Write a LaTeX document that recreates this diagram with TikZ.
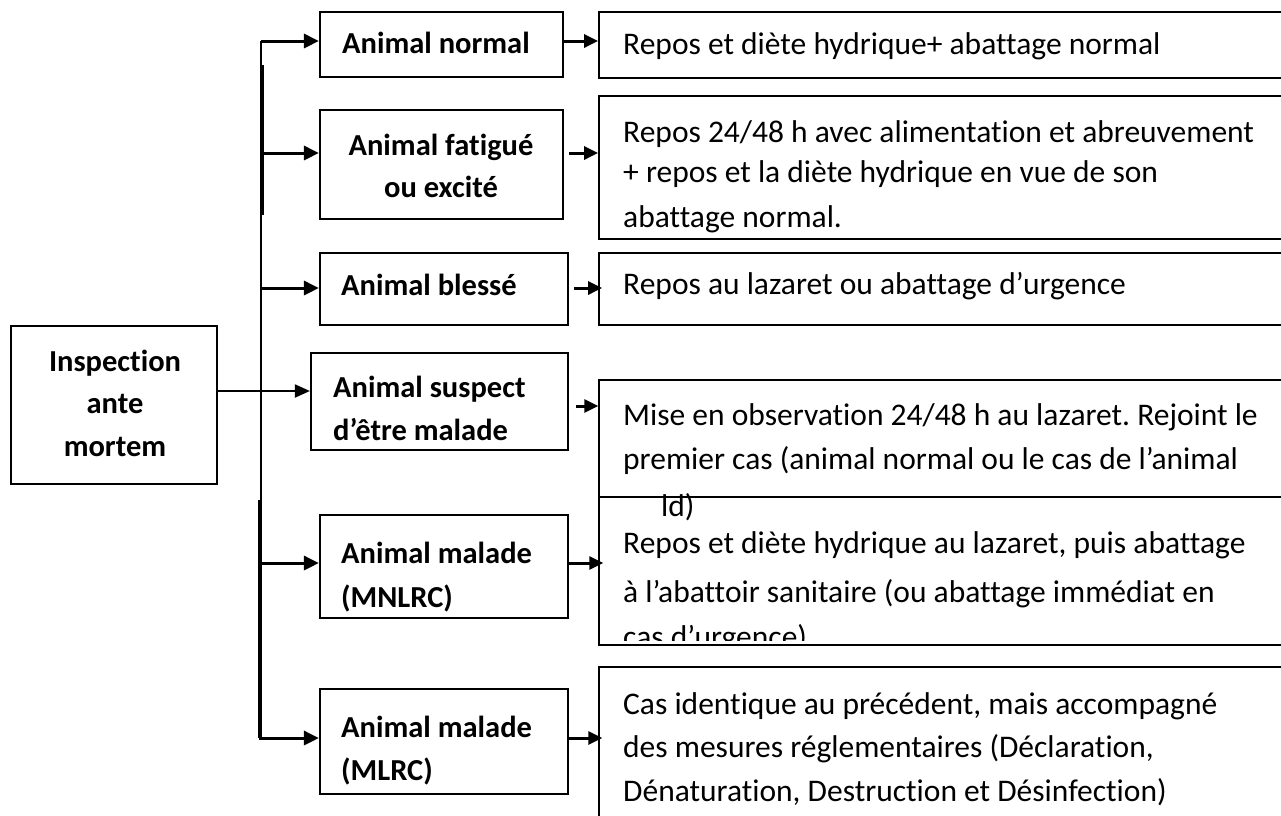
\documentclass[tikz,border=0pt]{standalone}
\usepackage{fontspec}
\setmainfont{Carlito}[Ligatures={TeX,NoCommon}]
\usetikzlibrary{arrows.meta}
\frenchspacing
\tikzset{
  lbox/.style={draw, line width=2.2pt, inner sep=0pt},
  rbox/.style={draw, line width=1.8pt, inner sep=0pt},
  trunkline/.style={line width=1.8pt},
  larr/.style={line width=3pt, -{Triangle[length=15pt,width=14pt]}},
  iarr/.style={line width=2pt, -{Triangle[length=15pt,width=13pt]}},
  rarr/.style={line width=3pt, -{Triangle[length=14pt,width=13pt]}},
  lt/.style={font=\fontsize{30.5}{36}\selectfont\bfseries, inner sep=0pt, anchor=base west},
  lc/.style={lt, anchor=base},
  rt/.style={font=\fontsize{31.5}{36}\selectfont, inner sep=0pt, anchor=base west}
}
\begin{document}
\begin{tikzpicture}[x=1pt,y=-1pt]
\clip (0,0) rectangle (1281,815);
\fill[white] (0,0) rectangle (1281,815);
% left boxes
\node[lbox, minimum width=206pt, minimum height=158pt] (insp) at (114,405) {};
\node[lbox, minimum width=243pt, minimum height=65pt] (n1) at (441.5,44.5) {};
\node[lbox, minimum width=243pt, minimum height=109pt] (n2) at (441.5,164.5) {};
\node[lbox, minimum width=248pt, minimum height=72pt] (n3) at (444,289) {};
\node[lbox, minimum width=257pt, minimum height=97pt] (n4) at (439.5,401.5) {};
\node[lbox, minimum width=248pt, minimum height=103pt] (n5) at (444,566.5) {};
\node[lbox, minimum width=248pt, minimum height=105pt] (n6) at (444,741.5) {};
% right boxes
\node[rbox, minimum width=701pt, minimum height=66pt] (r1) at (949.5,45) {};
\node[rbox, minimum width=701pt, minimum height=143pt] (r2) at (949.5,167.5) {};
\node[rbox, minimum width=701pt, minimum height=72pt] (r3) at (949.5,289) {};
\node[rbox, line width=1.4pt, minimum width=701pt, minimum height=117pt] (r4) at (949.5,438.5) {};
\node[rbox, line width=1.4pt, minimum width=701pt, minimum height=148pt] (r5) at (949.5,571) {};
\node[rbox, line width=1.4pt, minimum width=701pt, minimum height=163pt] (r6) at (949.5,748.5) {};
% trunk and branches
\coordinate (b1) at (261,41);
\coordinate (b2) at (261,153);
\coordinate (b3) at (261,288);
\coordinate (b4) at (261,391);
\coordinate (b5) at (259,563);
\coordinate (b6) at (259,738);
\draw[trunkline] (b1) -- (261,738);
\draw[line width=2.6pt] (259.6,500) -- (259.6,738);
\draw[line width=2.6pt] (262.3,65) -- (262.3,215);
\draw[larr] (b1) -- (b1 -| n1.west);
\draw[larr] (b2) -- (b2 -| n2.west);
\draw[larr] (b3) -- (b3 -| n3.west);
\draw[iarr] (insp.east |- b4) -- (b4 -| n4.west);
\draw[larr] (b5) -- (b5 -| n5.west);
\draw[larr] (b6) -- (b6 -| n6.west);
% right arrows
\coordinate (c1) at (0,41);
\coordinate (c2) at (0,153);
\coordinate (c3) at (0,288);
\coordinate (c4) at (0,406);
\coordinate (c5) at (0,563);
\coordinate (c6) at (0,738);
\draw[rarr] (n1.east |- c1) -- (r1.west |- c1);
\draw[rarr] ([xshift=5pt]n2.east |- c2) -- (r2.west |- c2);
\draw[rarr] ([xshift=5pt]n3.east |- c3) -- ([xshift=4pt]r3.west |- c3);
\draw[rarr] ([xshift=7pt]n4.east |- c4) -- (r4.west |- c4);
\draw[rarr] (n5.east |- c5) -- ([xshift=5pt]r5.west |- c5);
\draw[rarr] (n6.east |- c6) -- ([xshift=4pt]r6.west |- c6);
% left texts
\node[lc] (tinsp1) at (115,371) {Inspection};
\node[lc] (tinsp2) at (115,413) {ante};
\node[lc] (tinsp3) at (115,456) {mortem};
\node[lt] (tn1) at (342,53) {Animal normal};
\node[lc] (tn2a) at (441,155) {Animal fatigué};
\node[lc] (tn2b) at (441,197) {ou excité};
\node[lt] (tn3) at (341,295) {Animal blessé};
\node[lt] (tn4a) at (333,397) {Animal suspect};
\node[lt] (tn4b) at (333,440) {d’être malade};
\node[lt] (tn5a) at (341,563) {Animal malade};
\node[lt] (tn5b) at (341,607) {(MNLRC)};
\node[lt] (tn6a) at (341,737) {Animal malade};
\node[lt] (tn6b) at (341,780) {(MLRC)};
% right texts
\node[rt] (tr1) at (623,54) {Repos et diète hydrique+ abattage normal};
\node[rt] (tr2a) at (623,142) {Repos 24/48 h avec alimentation et abreuvement};
\node[rt] (tr2b) at (623,182) {+ repos et la diète hydrique en vue de son};
\node[rt] (tr2c) at (623,227) {abattage normal.};
\node[rt] (tr3) at (623,294) {Repos au lazaret ou abattage d’urgence};
\node[rt] (tr4a) at (623,425) {Mise en observation 24/48 h au lazaret. Rejoint le};
\node[rt] (tr4b) at (623,469) {premier cas (animal normal ou le cas de l’animal};
\node[rt] (tr4c) at (661,516) {ld)};
\node[rt] (tr5a) at (623,553) {Repos et diète hydrique au lazaret, puis abattage};
\node[rt] (tr5b) at (623,602) {à l’abattoir sanitaire (ou abattage immédiat en};
\begin{scope}
\clip (599,600) rectangle (1281,640);
\node[rt] (tr5c) at (623,647) {cas d’urgence)};
\end{scope}
\node[rt] (tr6a) at (623,714) {Cas identique au précédent, mais accompagné};
\node[rt] (tr6b) at (623,757) {des mesures réglementaires (Déclaration,};
\node[rt] (tr6c) at (623,801) {Dénaturation, Destruction et Désinfection)};
\end{tikzpicture}
\end{document}
